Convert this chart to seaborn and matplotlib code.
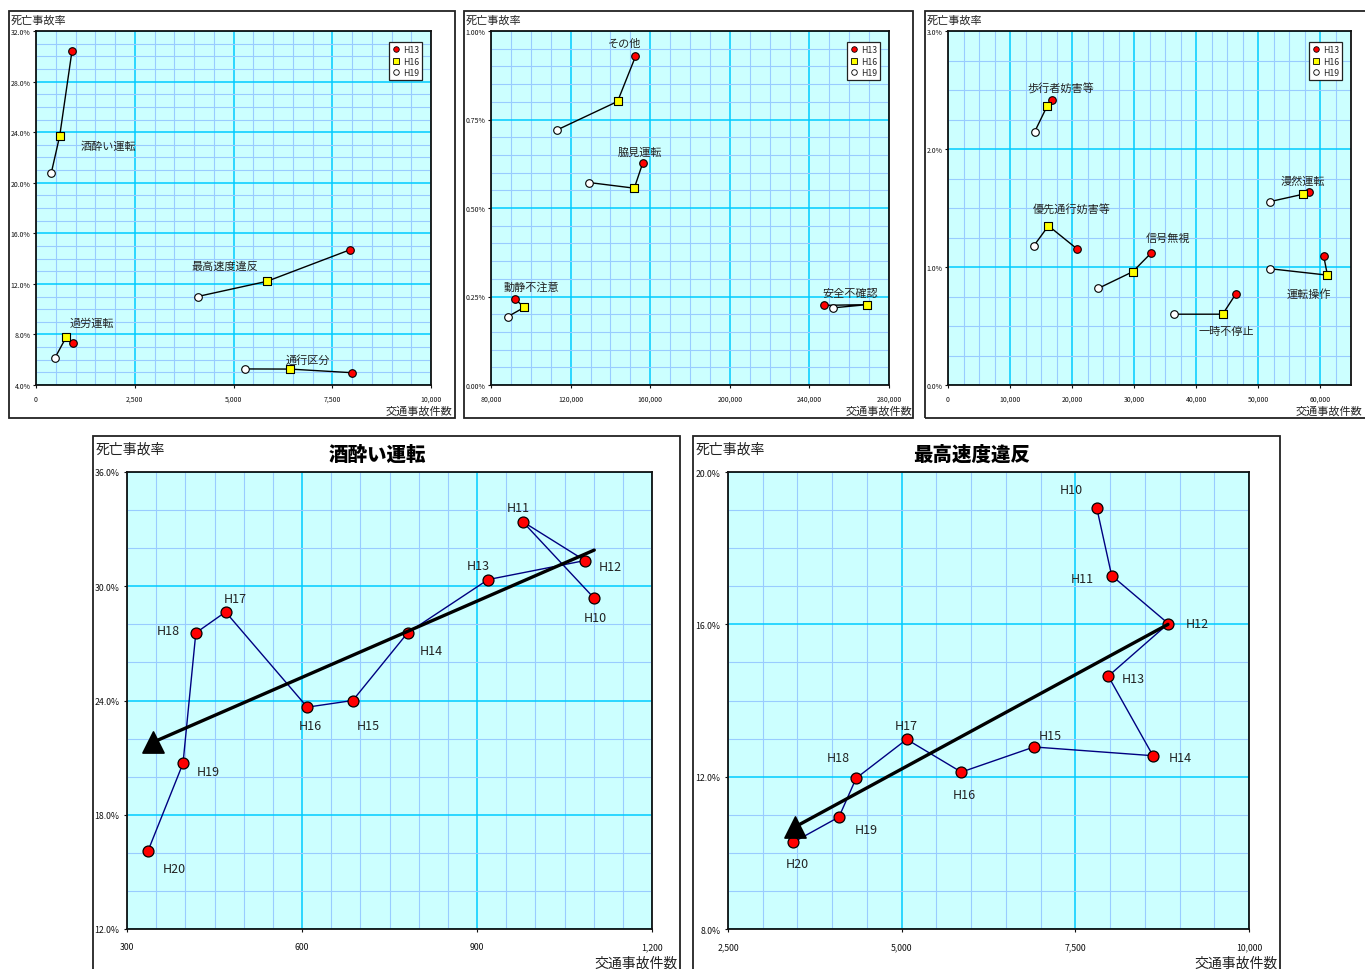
import numpy as np
import pandas as pd
import matplotlib
matplotlib.use("Agg")
import matplotlib.pyplot as plt
from matplotlib.patches import Rectangle
from matplotlib.lines import Line2D
from matplotlib.ticker import MultipleLocator, FuncFormatter
import seaborn as sns

# ---------------- data ----------------
years3 = ["H13", "H16", "H19"]

# panel 1 (x: accidents, y: fatality rate %)
p1_causes = ["酒酔い運転", "最高速度違反", "過労運転", "通行区分"]
p1_x = [[910, 600, 385], [7953, 5847, 4094], [927, 767, 472], [8012, 6428, 5291]]
p1_y = [[30.4, 23.7, 20.75], [14.7, 12.2, 11.0], [7.3, 7.8, 6.1], [4.97, 5.26, 5.27]]

# panel 2
p2_causes = ["その他", "脇見運転", "動静不注意", "安全不確認"]
p2_x = [[152600, 143600, 113000], [156300, 152000, 129200],
        [92000, 96600, 88400], [247200, 269100, 252000]]
p2_y = [[0.928, 0.801, 0.720], [0.628, 0.556, 0.572],
        [0.244, 0.219, 0.193], [0.225, 0.227, 0.218]]

# panel 3
p3_causes = ["歩行者妨害等", "優先通行妨害等", "信号無視", "一時不停止", "漫然運転", "運転操作"]
p3_x = [[16800, 16000, 14000], [20800, 16200, 13850], [32700, 29800, 24200],
        [46400, 44300, 36400], [58200, 57300, 52000], [60600, 61200, 52000]]
p3_y = [[2.416, 2.365, 2.148], [1.154, 1.349, 1.180], [1.115, 0.960, 0.818],
        [0.770, 0.600, 0.600], [1.637, 1.617, 1.555], [1.092, 0.931, 0.985]]

# bottom panels: H10..H20
years11 = ["H10", "H11", "H12", "H13", "H14", "H15", "H16", "H17", "H18", "H19", "H20"]
drunk_x = [1100, 978, 1085, 919, 781, 687, 609, 469, 418, 396, 336]
drunk_y = [29.4, 33.4, 31.35, 30.35, 27.55, 24.0, 23.65, 28.65, 27.55, 20.7, 16.1]
speed_x = [7808, 8023, 8838, 7974, 8618, 6905, 5859, 5072, 4345, 4097, 3442]
speed_y = [19.06, 17.28, 16.02, 14.64, 12.55, 12.78, 12.12, 12.98, 11.96, 10.94, 10.28]

drunk_trend_x = [1101, 344]
drunk_trend_y = [31.9, 21.8]
speed_trend_x = [8834, 3464]
speed_trend_y = [16.0, 10.68]

# ---------------- layout / style ----------------
W, H = 1365, 970
sns.set_theme(style="white")
plt.rcParams["font.family"] = ["Noto Sans CJK JP", "DejaVu Sans"]
plt.rcParams["axes.unicode_minus"] = False

BG = "#CCFFFF"
MAJ = "#00CCFF"
MIN = "#99CCFF"
TXT = "#222222"

fig = plt.figure(figsize=(W / 100, H / 100), dpi=100)
fig.patch.set_facecolor("white")


def fbox(l, t, r, b):
    return [l / W, 1 - b / H, (r - l) / W, (b - t) / H]


def frame(l, t, r, b):
    fig.add_artist(Rectangle((l / W, 1 - b / H), (r - l) / W, (b - t) / H,
                             transform=fig.transFigure, fill=False,
                             ec="#222222", lw=1.3))


def setup(ax, xlim, ylim, xmaj, xmin, ymaj, ymin, ydec, fs, xpad, ypad):
    ax.set_facecolor(BG)
    ax.set_xlim(xlim)
    ax.set_ylim(ylim)
    ax.xaxis.set_major_locator(MultipleLocator(xmaj))
    ax.xaxis.set_minor_locator(MultipleLocator(xmin))
    ax.yaxis.set_major_locator(MultipleLocator(ymaj))
    ax.yaxis.set_minor_locator(MultipleLocator(ymin))
    ax.xaxis.set_major_formatter(FuncFormatter(lambda v, p: f"{v:,.0f}"))
    ax.yaxis.set_major_formatter(FuncFormatter(lambda v, p: f"{v:.{ydec}f}%"))
    ax.grid(which="minor", color=MIN, lw=0.8)
    ax.grid(which="major", color=MAJ, lw=1.1)
    ax.set_axisbelow(True)
    for s in ax.spines.values():
        s.set_color("#111111")
        s.set_linewidth(1.3)
    ax.tick_params(which="minor", length=0)
    ax.tick_params(which="major", axis="both", length=2.5, width=0.8,
                   labelsize=fs, colors="#111111", direction="out")
    ax.tick_params(axis="x", pad=xpad, bottom=True)
    ax.tick_params(axis="y", pad=ypad, left=True)
    ax.set_xlabel("")
    ax.set_ylabel("")


def top_panel(ax, causes, xs, ys, labels_pos):
    for c, xv, yv in zip(causes, xs, ys):
        sns.lineplot(x=xv, y=yv, ax=ax, sort=False, estimator=None,
                     color="black", lw=1.0, zorder=3)
        styles = [("o", "#FF0000"), ("s", "#FFFF00"), ("o", "white")]
        for i, (m, col) in enumerate(styles):
            sns.scatterplot(x=[xv[i]], y=[yv[i]], ax=ax, marker=m, color=col,
                            edgecolor="black", linewidth=0.8, s=30, zorder=4)
        lx, ly = labels_pos[c]
        ax.text(lx, ly, c, fontsize=8, color=TXT, ha="left", va="center", zorder=5)
    handles = [Line2D([], [], ls="", marker="o", mfc="#FF0000", mec="black", ms=4, mew=0.6),
               Line2D([], [], ls="", marker="s", mfc="#FFFF00", mec="black", ms=4, mew=0.6),
               Line2D([], [], ls="", marker="o", mfc="white", mec="black", ms=4, mew=0.6)]
    leg = ax.legend(handles, years3, loc="upper right",
                    bbox_to_anchor=(1 - 9 / 400, 1 - 11 / 354), borderaxespad=0,
                    fontsize=6.3, frameon=True, fancybox=False, handlelength=0.8,
                    handletextpad=0.4, labelspacing=0.3, borderpad=0.35)
    leg.get_frame().set_edgecolor("#222222")
    leg.get_frame().set_linewidth(0.9)
    leg.get_frame().set_facecolor("white")
    leg.get_frame().set_alpha(1)


# ---------- top row ----------
frame(9, 12, 455, 419)
frame(464, 12, 913, 419)
frame(925, 12, 1375, 419)

ax1 = fig.add_axes(fbox(36, 32, 431, 386))
setup(ax1, (0, 10000), (4, 32), 2500, 500, 4, 1, 1, 5, 4.5, 1.5)
top_panel(ax1, p1_causes, p1_x, p1_y,
          {"酒酔い運転": (1120, 22.9), "最高速度違反": (3925, 13.4),
           "過労運転": (842, 8.9), "通行区分": (6327, 6.05)})

ax2 = fig.add_axes(fbox(491, 32, 889, 386))
setup(ax2, (80000, 280000), (0, 1.0), 40000, 10000, 0.25, 0.05, 2, 5, 4.5, 1.5)
top_panel(ax2, p2_causes, p2_x, p2_y,
          {"その他": (138900, 0.967), "脇見運転": (143900, 0.660),
           "動静不注意": (86400, 0.277), "安全不確認": (246400, 0.259)})

ax3 = fig.add_axes(fbox(948, 32, 1351, 386))
setup(ax3, (0, 65000), (0, 3.0), 10000, 2500, 1.0, 0.25, 1, 5, 4.5, 1.5)
top_panel(ax3, p3_causes, p3_x, p3_y,
          {"歩行者妨害等": (12800, 2.52), "優先通行妨害等": (13700, 1.496),
           "信号無視": (31900, 1.253), "一時不停止": (40400, 0.454),
           "漫然運転": (53700, 1.733), "運転操作": (54650, 0.779)})

for xl in [11, 466, 927]:
    fig.text(xl / W, 1 - 21 / H, "死亡事故率", fontsize=8, color=TXT, ha="left", va="center")
for xr in [452, 912, 1362]:
    fig.text(xr / W, 1 - 411 / H, "交通事故件数", fontsize=8, color=TXT, ha="right", va="center")


# ---------- bottom row ----------
def bottom_panel(ax, xv, yv, tx, ty, offsets):
    sns.lineplot(x=xv, y=yv, ax=ax, sort=False, estimator=None,
                 color="#000080", lw=1.0, zorder=3)
    sns.lineplot(x=tx, y=ty, ax=ax, sort=False, estimator=None,
                 color="black", lw=2.4, zorder=5)
    sns.scatterplot(x=[tx[-1]], y=[ty[-1]], ax=ax, marker="^", color="black",
                    edgecolor="black", s=230, zorder=6)
    sns.scatterplot(x=xv, y=yv, ax=ax, marker="o", color="#FF0000",
                    edgecolor="black", linewidth=0.9, s=62, zorder=4)
    for lab, x, y, (dx, dy) in zip(years11, xv, yv, offsets):
        ax.annotate(lab, (x, y), xytext=(dx, dy), textcoords="offset points",
                    fontsize=9, color=TXT, ha="center", va="center", zorder=7)


frame(93, 437, 680, 985)
frame(693, 437, 1280, 985)

ax4 = fig.add_axes(fbox(127, 473, 652, 930))
setup(ax4, (300, 1200), (12, 36), 300, 50, 6, 2, 1, 6.3, 7, 3)
bottom_panel(ax4, drunk_x, drunk_y, drunk_trend_x, drunk_trend_y,
             [(1, -14), (-3, 10), (18, -4), (-7, 10), (17, -13), (11, -18),
              (2, -13), (7, 10), (-20, 1.5), (18, -6), (19, -13)])

ax5 = fig.add_axes(fbox(728, 473, 1249, 930))
setup(ax5, (2500, 10000), (8, 20), 2500, 500, 4, 1, 1, 6.3, 7, 3)
bottom_panel(ax5, speed_x, speed_y, speed_trend_x, speed_trend_y,
             [(-18, 13), (-21, -2), (21, 0), (18, -2), (20, -1.5), (12, 8),
              (2, -16), (0, 10), (-13, 15), (20, -9), (3, -15)])

fig.text(377 / W, 1 - 455 / H, "酒酔い運転", fontsize=14, fontweight="heavy",
         color="black", ha="center", va="center")
fig.text(972 / W, 1 - 455 / H, "最高速度違反", fontsize=14, fontweight="heavy",
         color="black", ha="center", va="center")
for xl in [96, 696]:
    fig.text(xl / W, 1 - 449 / H, "死亡事故率", fontsize=10, color=TXT, ha="left", va="center")
for xr in [678, 1278]:
    fig.text(xr / W, 1 - 963 / H, "交通事故件数", fontsize=10, color=TXT, ha="right", va="center")

fig.savefig("out.png", dpi=100, facecolor="white")
